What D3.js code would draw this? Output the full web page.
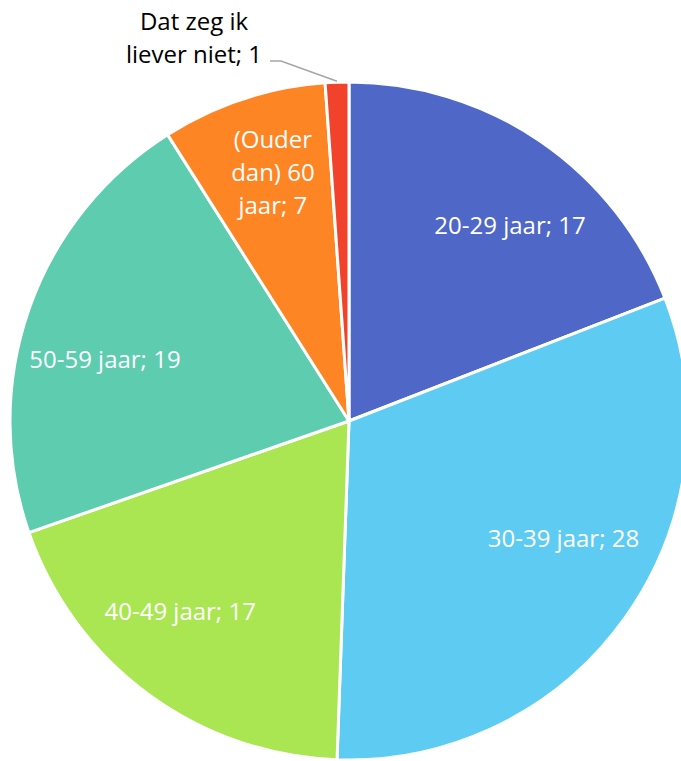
<!DOCTYPE html>
<html>
<head>
<meta charset="utf-8">
<script src="https://cdn.jsdelivr.net/npm/d3@7"></script>
<style>
  body { margin: 0; background: #fff; }
  svg { display: block; }
  text { font-family: "Open Sans", Lato, sans-serif; }
</style>
</head>
<body>
<div id="chart"></div>
<script>
var svgWidth = 681;
var svgHeight = 761;

// data
var categories = ["20-29 jaar", "30-39 jaar", "40-49 jaar", "50-59 jaar", "(Ouder dan) 60 jaar", "Dat zeg ik liever niet"];
var counts = [17, 28, 17, 19, 7, 1];
var colors = ["#4F68C8", "#5DCBF2", "#A9E652", "#5DCCAF", "#FE8524", "#F1422B"];

// label lines (how the text wraps)
var labelLines = [
    ["20-29 jaar; 17"],
    ["30-39 jaar; 28"],
    ["40-49 jaar; 17"],
    ["50-59 jaar; 19"],
    ["(Ouder", "dan) 60", "jaar; 7"],
    ["Dat zeg ik", "liever niet; 1"]
];

var cx = 349, cy = 421, radius = 339;

var svg = d3.select("#chart")
    .append("svg")
    .attr("width", svgWidth)
    .attr("height", svgHeight);

var pieGroup = svg.append("g")
    .attr("transform", `translate(${cx}, ${cy})`);

var pie = d3.pie().sort(null).value(d => d);
var arcs = pie(counts);

var arc = d3.arc().innerRadius(0).outerRadius(radius);

pieGroup.selectAll("path.slice")
    .data(arcs)
    .enter()
    .append("path")
    .classed("slice", true)
    .attr("d", arc)
    .attr("fill", (d, i) => colors[i])
    .attr("stroke", "#fff")
    .attr("stroke-width", 3)
    .attr("stroke-linejoin", "round");

// label placement: centroid at a fraction of radius, then nudged like Excel's best fit
var labelArc = d3.arc().innerRadius(radius * 0.7).outerRadius(radius * 0.7);
var nudge = [[27, 0], [21, -20], [-28, 0], [-20, 17], [-2, -23]];
var lineHeight = 33;

arcs.forEach(function(d, i) {
    var lines = labelLines[i];
    var pos, fill;
    if (i < 5) {
        var c = labelArc.centroid(d);
        pos = [c[0] + nudge[i][0], c[1] + nudge[i][1]];
        fill = "#fff";
    } else {
        // outside label with leader line
        var a = (d.startAngle + d.endAngle) / 2;
        var edge = [Math.sin(a) * (radius + 1), -Math.cos(a) * (radius + 1)];
        pos = [194 - cx, 38 - cy];
        fill = "#000";
        pieGroup.append("polyline")
            .attr("points", [[270 - cx, 61 - cy], [281 - cx, 61 - cy], edge].map(p => p.join(",")).join(" "))
            .attr("fill", "none")
            .attr("stroke", "#A6A6A6")
            .attr("stroke-width", 1.5);
    }
    var t = pieGroup.append("text")
        .attr("text-anchor", "middle")
        .attr("fill", fill)
        .style("font-size", "24px");
    lines.forEach(function(line, j) {
        t.append("tspan")
            .attr("x", pos[0])
            .attr("y", pos[1] + (j - (lines.length - 1) / 2) * lineHeight)
            .attr("dy", "0.35em")
            .text(line);
    });
});
</script>
</body>
</html>
